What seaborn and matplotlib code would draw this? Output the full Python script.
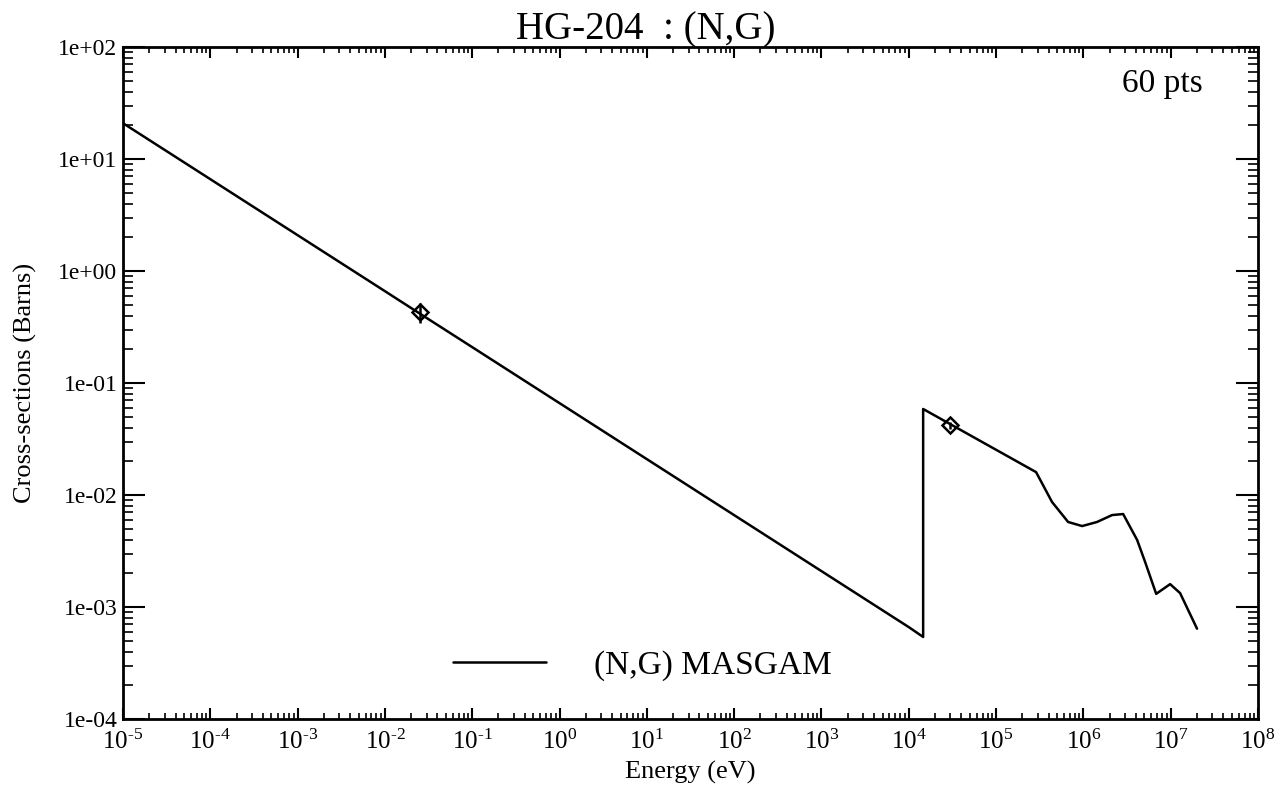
import numpy as np
import pandas as pd
import matplotlib
matplotlib.use("Agg")
import matplotlib.pyplot as plt
import seaborn as sns
from matplotlib.ticker import LogLocator, NullFormatter, FixedLocator, FixedFormatter


# DATA

energy_ev = [1e-5, 1e-4, 1e-3, 1e-2, 0.0253, 0.1, 1.0, 10.0, 100.0, 1e3, 1e4, 1.46e4,
             1.46e4, 2.87e5, 4.37e5, 6.68e5, 9.67e5, 1.43e6, 2.13e6, 2.85e6,
             4.12e6, 5.09e6, 6.81e6, 9.84e6, 1.28e7, 2.0e7]
xs_barns = [20.9, 6.61, 2.09, 0.661, 0.415, 0.209, 0.0661, 0.0209, 0.00661, 0.00209, 6.61e-4, 5.4e-4,
            0.0586, 0.0160, 0.00866, 0.00574, 0.00528, 0.00574, 0.00662, 0.00676,
            0.00397, 0.00252, 0.00131, 0.00160, 0.00133, 6.4e-4]

exp_energy = [0.0253, 3.0e4]
exp_xs = [0.43, 0.042]
exp_err = [0.09, 0.003]

title = "HG-204  : (N,G)"
legend_label = "(N,G) MASGAM"
npts_label = "60 pts"

xtick_vals = [1e-5, 1e-4, 1e-3, 1e-2, 1e-1, 1e0, 1e1, 1e2, 1e3, 1e4, 1e5, 1e6, 1e7, 1e8]
xtick_exps = ["-5", "-4", "-3", "-2", "-1", "0", "1", "2", "3", "4", "5", "6", "7", "8"]
ytick_vals = [1e-4, 1e-3, 1e-2, 1e-1, 1e0, 1e1, 1e2]
ytick_labels = ["1e-04", "1e-03", "1e-02", "1e-01", "1e+00", "1e+01", "1e+02"]


# STYLE

sns.set_style("ticks")
plt.rcParams["font.family"] = ["Liberation Serif", "DejaVu Serif"]
plt.rcParams["mathtext.fontset"] = "custom"
plt.rcParams["mathtext.rm"] = "Liberation Serif"
plt.rcParams["mathtext.it"] = "Liberation Serif:italic"
plt.rcParams["mathtext.bf"] = "Liberation Serif:bold"
plt.rcParams["text.color"] = "black"
plt.rcParams["axes.labelcolor"] = "black"

df = pd.DataFrame({"E": energy_ev, "xs": xs_barns})


# PLOT

fig = plt.figure(figsize=(12.78, 7.85), dpi=100)
ax = fig.add_axes([0.0962, 0.0841, 0.8882, 0.856])

sns.lineplot(data=df, x="E", y="xs", sort=False, estimator=None, errorbar=None,
             color="black", linewidth=1.8, label=legend_label, ax=ax)
ax.errorbar(exp_energy, exp_xs, yerr=exp_err, fmt="D", mfc="none", mec="black",
            ecolor="black", ms=8, mew=1.8, elinewidth=1.8, capsize=0, zorder=3)

ax.set_xscale("log")
ax.set_yscale("log")
ax.set_xlim(1e-5, 1e8)
ax.set_ylim(1e-4, 1e2)

ax.xaxis.set_major_locator(FixedLocator(xtick_vals))
ax.xaxis.set_major_formatter(FixedFormatter(
    [r"$10^{\text{" + e + "}}$" for e in xtick_exps]))
ax.xaxis.set_minor_locator(LogLocator(base=10, subs=np.arange(2, 10), numticks=200))
ax.xaxis.set_minor_formatter(NullFormatter())
ax.yaxis.set_major_locator(FixedLocator(ytick_vals))
ax.yaxis.set_major_formatter(FixedFormatter(ytick_labels))
ax.yaxis.set_minor_locator(LogLocator(base=10, subs=np.arange(2, 10), numticks=200))
ax.yaxis.set_minor_formatter(NullFormatter())

ax.tick_params(axis="both", which="both", direction="in", top=True, right=True,
               color="black", labelsize=17, labelcolor="black")
ax.tick_params(axis="x", which="major", length=8, width=1.5, pad=8, labelsize=18)
ax.tick_params(axis="x", which="minor", length=4, width=1.2)
ax.tick_params(axis="y", which="major", length=16, width=1.5, pad=4)
ax.tick_params(axis="y", which="minor", length=7, width=1.2)

for s in ax.spines.values():
    s.set_linewidth(2.0)
    s.set_color("black")

ax.set_xlabel("Energy (eV)", fontsize=19)
ax.xaxis.set_label_coords(0.5, -0.062)
ax.set_ylabel("Cross-sections (Barns)", fontsize=19)
ax.yaxis.set_label_coords(-0.076, 0.5)
fig.text(0.505, 0.985, title, ha="center", va="top", fontsize=28)

ax.text(0.951, 0.945, npts_label, transform=ax.transAxes, ha="right", va="center",
        fontsize=24)

ax.legend(loc="center left", bbox_to_anchor=(0.264, 0.08), frameon=False,
          fontsize=24, handlelength=2.8, handletextpad=1.45)

fig.savefig("out.png", dpi=100)
